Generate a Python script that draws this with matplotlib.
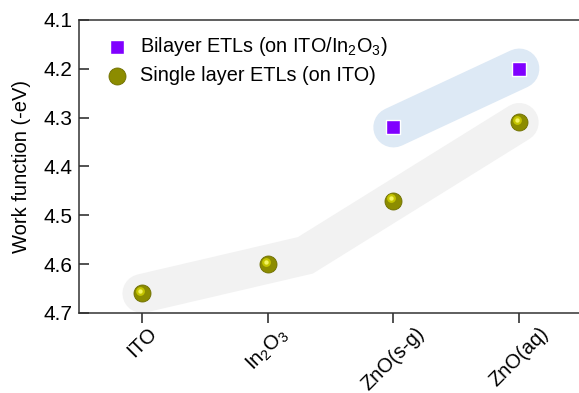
import numpy as np
import matplotlib
matplotlib.use('Agg')
import matplotlib.pyplot as plt
from matplotlib.transforms import offset_copy

plt.rcParams['font.family'] = ['Liberation Sans', 'DejaVu Sans']
plt.rcParams['mathtext.fontset'] = 'custom'
plt.rcParams['mathtext.rm'] = 'Liberation Sans'
plt.rcParams['mathtext.it'] = 'Liberation Sans'

categories = ['ITO', 'In$_2$O$_3$', 'ZnO(s-g)', 'ZnO(aq)']
single_layer = [4.66, 4.60, 4.47, 4.31]
bilayer_idx = [2, 3]
bilayer = [4.32, 4.20]

x = np.arange(len(categories))

fig = plt.figure(figsize=(5.79, 3.93), dpi=100)
ax = fig.add_axes([0.1364, 0.2036, 0.869, 0.746])

# shaded guide bands: straight through ITO/In2O3, then through the two ZnO points
s1 = (single_layer[1] - single_layer[0]) / (x[1] - x[0])
s2 = (single_layer[3] - single_layer[2]) / (x[3] - x[2])
kx = (single_layer[2] - s2 * x[2] - single_layer[0] + s1 * x[0]) / (s1 - s2)
ky = single_layer[0] + s1 * (kx - x[0])
ax.plot([x[0], kx, x[3]], [single_layer[0], ky, single_layer[3]], color='#f2f2f2',
        lw=28, solid_capstyle='round', solid_joinstyle='miter', zorder=1)
ax.plot(x[bilayer_idx], bilayer, color='#dde9f5', lw=29,
        solid_capstyle='round', zorder=1)

# single layer "spheres"
ax.scatter(x, single_layer, s=150, color='#8c8c00', edgecolor='#6e6e00',
           linewidth=0.6, zorder=3, label='Single layer ETLs (on ITO)')
hl = offset_copy(ax.transData, fig=fig, x=-2, y=2.5, units='dots')
ax.scatter(x, single_layer, s=40, color='#c4c400', linewidth=0, zorder=4, transform=hl)
ax.scatter(x, single_layer, s=10, color='#f4f460', linewidth=0, zorder=5, transform=hl)

ax.scatter(x[bilayer_idx], bilayer, s=115, marker='s', color='#8000ff',
           edgecolor='white', linewidth=1, zorder=3, label='Bilayer ETLs (on ITO/In$_2$O$_3$)')

ax.set_xlim(-0.5, 3.5)
ax.set_ylim(4.7, 4.1)
ax.set_yticks([4.1, 4.2, 4.3, 4.4, 4.5, 4.6, 4.7])
ax.set_yticklabels(['4.1', '4.2', '4.3', '4.4', '4.5', '4.6', '4.7'])
ax.set_xticks(x)
ax.set_xticklabels(categories, rotation=45, ha='center', va='top')
ax.tick_params(axis='y', direction='in', length=7, width=1.1, labelsize=15,
               colors='#222222', pad=5)
ax.tick_params(axis='x', direction='out', length=7, width=1.1, labelsize=14.5,
               colors='#222222', pad=1)
for lab in ax.get_xticklabels():
    lab.set_color('black')
for lab in ax.get_yticklabels():
    lab.set_color('black')
for sp in ax.spines.values():
    sp.set_linewidth(1.1)
    sp.set_color('#333333')
ax.set_ylabel('Work function (-eV)', fontsize=14.5, labelpad=9)

handles, labels = ax.get_legend_handles_labels()
leg = ax.legend(handles[::-1], labels[::-1], loc='upper left', frameon=False, fontsize=14.3,
                handletextpad=0.4, borderaxespad=0.0, labelspacing=0.4,
                handlelength=1.5, bbox_to_anchor=(0.03, 0.975))

fig.savefig('out.png', dpi=100)
